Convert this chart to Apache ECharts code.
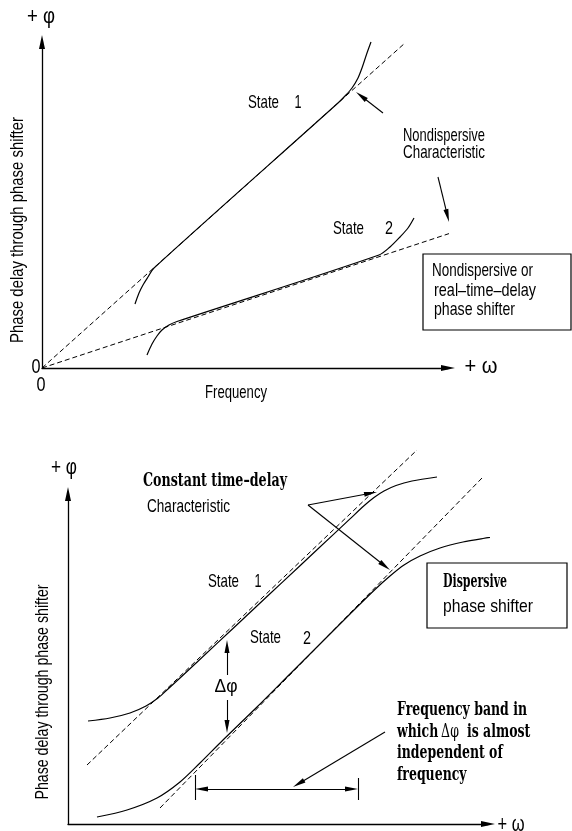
<!DOCTYPE html>
<html><head><meta charset="utf-8">
<script src="https://cdn.jsdelivr.net/npm/echarts@6/dist/echarts.min.js"></script>
<style>html,body{margin:0;padding:0;background:#fff}#c{width:572px;height:831px}</style>
</head><body><div id="c"></div><script>
// ---- Upper panel: nondispersive (real-time-delay) phase shifter (axis units) ----
const topDashed1 = [[0,0],[363,325]];
const topDashed2 = [[0,0],[421,139]];
const topState1 = [[93,64],[97,75],[101,83],[106,91],[112,100],[296,265],[303,272],[310,280],[316,290],[320,300],[325,315],[329,326]];
const topState2 = [[105,13],[110,24],[115,32],[120,38],[127,43],[135,46.5],[337,113],[348,121],[358,131],[366,140],[372,150]];
const topArrows = [[[341,255],[314,276]], [[396,191],[407,146]]];

// ---- Lower panel: dispersive phase shifter (axis units) ----
const botDashed1 = [[19,59],[349,374]];
const botDashed2 = [[92,16],[415,347]];
const botState1 = [[20,103],[42,106],[62,111],[78,118],[90,126],[100,135],[112,146],[149,180.6],[182,211.5],[215,242.4],[249,274.2],[282,305.1],[296,318.2],[306,326.5],[316,333],[328,338.5],[344,343],[369,347]];
const botState2 = [[29,7],[59,14],[89,26],[112,42],[132,61],[155,84],[189,117],[222,150],[252,180],[282,210],[307,234.5],[322,248],[336,259],[352,268],[372,276],[395,282],[415,285.5],[439,289]];
const botArrows = [[[159,149],[159,184]], [[159,124],[159,91]], [[240,319],[309,332]], [[240,319],[322,254]], [[317,92],[225,37]]];
const botBand = [[127,35],[290,35]];
const botBandTicks = [[[127,49],[127,24]], [[290,46],[290,24]]];

const HEAD = 13; // arrowhead length
function shorten(seg, s0, s1) {
  const [a,b] = seg; const dx=b[0]-a[0], dy=b[1]-a[1]; const L=Math.hypot(dx,dy);
  const ux=dx/L, uy=dy/L;
  return [[a[0]+ux*s0, a[1]+uy*s0],[b[0]-ux*s1, b[1]-uy*s1]];
}

const SANS = "'Liberation Sans',Arial,sans-serif";
const SERIF = "'DejaVu Serif',serif";
const mctx = document.createElement('canvas').getContext('2d');
function fit(text, font, w) { mctx.font = font; return w / mctx.measureText(text).width; }
const SERIF_SX = fit('Frequency band in', "bold 18px " + SERIF, 130);

const chart = echarts.init(document.getElementById('c'), null, {renderer:'canvas'});

function axis(grid, max) {
  return {
    gridIndex: grid, type: 'value', min: 0, max: max,
    axisLine: {show:true, onZero:false, symbol:['none','triangle'], symbolSize:[6,14], lineStyle:{color:'#000', width:1.3}},
    axisTick:{show:false}, axisLabel:{show:false}, splitLine:{show:false}
  };
}
function curve(grid, data, dashed) {
  return {
    type:'line', xAxisIndex:grid, yAxisIndex:grid, data:data, symbol:'none', showSymbol:false,
    smooth: dashed ? false : 0.3, clip:false, silent:true,
    lineStyle:{color:'#000', width: dashed ? 1 : 1.2, type: dashed ? [5,3] : 'solid'}
  };
}
function arrows(grid, segs, both) {
  return {
    type:'lines', coordinateSystem:'cartesian2d', xAxisIndex:grid, yAxisIndex:grid, clip:false, silent:true,
    symbol: both ? ['triangle','triangle'] : ['none','triangle'],
    symbolSize: [[5,HEAD],[5,HEAD]],
    lineStyle:{color:'#000', width:1.1, opacity:1},
    itemStyle:{color:'#000'},
    data: segs.map(s => ({coords: shorten(s, both ? HEAD/2 : 0, HEAD/2)}))
  };
}
function plain(grid, segs) {
  return {
    type:'lines', coordinateSystem:'cartesian2d', xAxisIndex:grid, yAxisIndex:grid, clip:false, silent:true,
    symbol:['none','none'], lineStyle:{color:'#000', width:1.1, opacity:1},
    data: segs.map(s => ({coords: s}))
  };
}
function txt(x, y, text, size, opts) {
  opts = opts || {};
  const align = opts.align || 'left';
  const fam = opts.family || SANS;
  const weight = opts.bold ? 'bold' : 'normal';
  let sx = opts.sx || 1;
  if (opts.w) sx = fit(text, weight + ' ' + size + 'px ' + fam, opts.w);
  return {
    type:'text', x:x, y:y, rotation: opts.rot || 0, scaleX: sx, silent:true,
    style:{text:text, fontSize:size, fontFamily: fam, fontWeight: weight,
      fill:'#000', align:align, verticalAlign:'middle', textAlign:align, textVerticalAlign:'middle'}
  };
}
function box(x, y, w, h) {
  return {type:'rect', silent:true, shape:{x:x, y:y, width:w, height:h}, style:{fill:'none', stroke:'#000', lineWidth:1.2}};
}

chart.setOption({
  animation:false,
  backgroundColor:'#fff',
  grid:[
    {left:42, top:42, width:406, height:326},
    {left:68, top:494, width:420, height:330}
  ],
  xAxis:[axis(0,406), axis(1,420)],
  yAxis:[axis(0,326), axis(1,330)],
  series:[
    curve(0, topDashed1, true), curve(0, topDashed2, true),
    curve(0, topState1, false), curve(0, topState2, false),
    arrows(0, topArrows, false),
    curve(1, botDashed1, true), curve(1, botDashed2, true),
    curve(1, botState1, false), curve(1, botState2, false),
    arrows(1, botArrows, false),
    arrows(1, [botBand], true),
    plain(1, botBandTicks)
  ],
  graphic:[
    // upper panel
    txt(41, 17, '+ φ', 22, {align:'center', w:28}),
    txt(36, 367, '0', 20, {align:'center', w:9}),
    txt(41, 385, '0', 20, {align:'center', w:9}),
    txt(236, 393, 'Frequency', 19, {align:'center', w:62}),
    txt(481, 367, '+ ω', 22, {align:'center', w:33}),
    txt(18, 230, 'Phase delay through phase shifter', 19, {align:'center', rot:Math.PI/2, w:226}),
    txt(248, 103, 'State', 19, {w:31}),
    txt(298, 103, '1', 19, {align:'center', w:7}),
    txt(333, 229, 'State', 19, {w:31}),
    txt(389, 229, '2', 19, {align:'center', w:8}),
    txt(403, 136, 'Nondispersive', 19, {w:82}),
    txt(403, 153, 'Characteristic', 19, {w:82}),
    box(423, 254, 148, 76),
    txt(432, 271, 'Nondispersive or', 19, {w:101}),
    txt(434, 291, 'real–time–delay', 19, {w:102}),
    txt(434, 310, 'phase shifter', 19, {w:81}),
    // lower panel
    txt(64, 468, '+ φ', 22, {align:'center', w:26}),
    txt(43, 692, 'Phase delay through phase shifter', 18.5, {align:'center', rot:Math.PI/2, w:215}),
    txt(511, 825, '+ ω', 22, {align:'center', w:27}),
    txt(143, 481, 'Constant time–delay', 18, {family:SERIF, bold:true, w:144}),
    txt(147, 507, 'Characteristic', 19, {w:83}),
    txt(208, 582, 'State', 19, {w:31}),
    txt(258, 582, '1', 19, {align:'center', w:7}),
    txt(250, 638, 'State', 19, {w:31}),
    txt(307, 639, '2', 19, {align:'center', w:8}),
    txt(226, 687, 'Δφ', 19, {align:'center', w:23}),
    box(427, 563, 140, 65),
    txt(443, 582, 'Dispersive', 18, {family:SERIF, bold:true, w:64}),
    txt(443, 607, 'phase shifter', 19, {w:90}),
    txt(397, 710, 'Frequency band in', 18, {family:SERIF, bold:true, sx:SERIF_SX}),
    txt(397, 732, 'which', 18, {family:SERIF, bold:true, sx:SERIF_SX}),
    txt(450, 732, 'Δφ', 18, {align:'center', family:SERIF, sx:SERIF_SX}),
    txt(467, 732, 'is almost', 18, {family:SERIF, bold:true, sx:SERIF_SX}),
    txt(397, 753, 'independent of', 18, {family:SERIF, bold:true, sx:SERIF_SX}),
    txt(397, 775, 'frequency', 18, {family:SERIF, bold:true, sx:SERIF_SX})
  ]
});
</script></body></html>
